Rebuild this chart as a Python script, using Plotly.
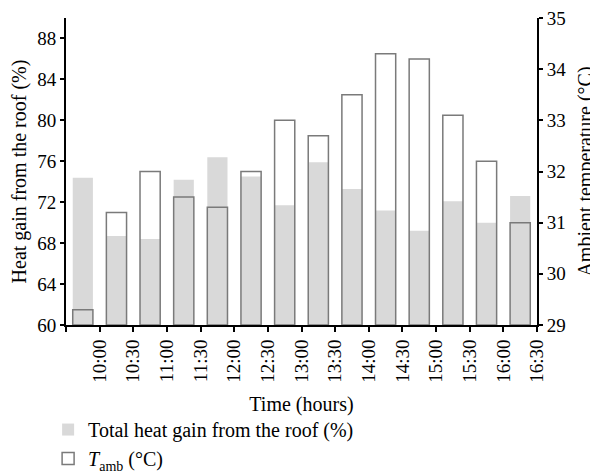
import plotly.graph_objects as go

times = ["10:00", "10:30", "11:00", "11:30", "12:00", "12:30", "13:00",
         "13:30", "14:00", "14:30", "15:00", "15:30", "16:00", "16:30"]
heat_gain = [74.4, 68.7, 68.4, 74.2, 76.4, 74.5, 71.7, 75.9, 73.3, 71.2, 69.2, 72.1, 70.0, 72.6]
t_amb = [29.3, 31.2, 32.0, 31.5, 31.3, 32.0, 33.0, 32.7, 33.5, 34.3, 34.2, 33.1, 32.2, 31.0]
left_ticks = [60, 64, 68, 72, 76, 80, 84, 88]
right_ticks = [29, 30, 31, 32, 33, 34, 35]
T_FLOOR = 29

n = len(times)
xpos = [i + 0.5 for i in range(n)]  # each bar spans the interval ending at its label
FONT = "Liberation Serif"
tick_font = dict(family=FONT, size=19, color="black")
title_font = dict(family=FONT, size=20, color="black")

fig = go.Figure()
fig.add_trace(go.Bar(
    x=xpos, y=heat_gain, width=0.6, name="Total heat gain from the roof (%)",
    marker=dict(color="#d9d9d9", line=dict(width=0)), yaxis="y",
))
fig.add_trace(go.Bar(
    x=xpos, y=[v - T_FLOOR for v in t_amb], base=T_FLOOR, width=0.6,
    name="<i>T</i><sub>amb</sub> (°C)",
    marker=dict(color="rgba(0,0,0,0)", line=dict(color="#7a7a7a", width=1.5)),
    yaxis="y2",
))

fig.update_layout(
    width=598, height=473,
    margin=dict(l=58, r=69, t=10, b=156, autoexpand=False),
    paper_bgcolor="white", plot_bgcolor="white",
    font=dict(family=FONT, size=19, color="black"),
    barmode="overlay",
    showlegend=True,
    legend=dict(x=-0.038, y=-0.277, xanchor="left", yanchor="top",
                orientation="v", font=title_font, bgcolor="rgba(0,0,0,0)",
                tracegroupgap=0),
    xaxis=dict(
        range=[0, n], tickmode="array",
        tickvals=list(range(n + 1)), ticktext=[""] + times, tickfont=tick_font,
        tickangle=-90, ticks="outside", ticklen=5, tickwidth=2, tickcolor="black",
        showline=True, linecolor="black", linewidth=2, showgrid=False, zeroline=False,
        ticklabeloverflow="allow",
        title=dict(text="Time (hours)", standoff=15, font=title_font), automargin=False,
    ),
    yaxis=dict(
        range=[60, 90], tickmode="array", tickvals=left_ticks, tickfont=tick_font,
        ticks="outside", ticklen=4, tickwidth=2, tickcolor="black",
        showline=True, linecolor="black", linewidth=2, showgrid=False, zeroline=False,
        ticklabeloverflow="allow",
        title=dict(text="Heat gain from the roof (%)", standoff=13, font=title_font),
        automargin=False,
    ),
    yaxis2=dict(
        range=[29, 35], tickmode="array", tickvals=right_ticks, tickfont=tick_font,
        overlaying="y", side="right",
        ticks="outside", ticklen=4, tickwidth=2, tickcolor="black",
        showline=True, linecolor="black", linewidth=2, showgrid=False, zeroline=False,
        ticklabeloverflow="allow",
        title=dict(text="Ambient temperature (°C)", standoff=13, font=title_font),
        automargin=False,
    ),
)

fig.write_html("out.html")
